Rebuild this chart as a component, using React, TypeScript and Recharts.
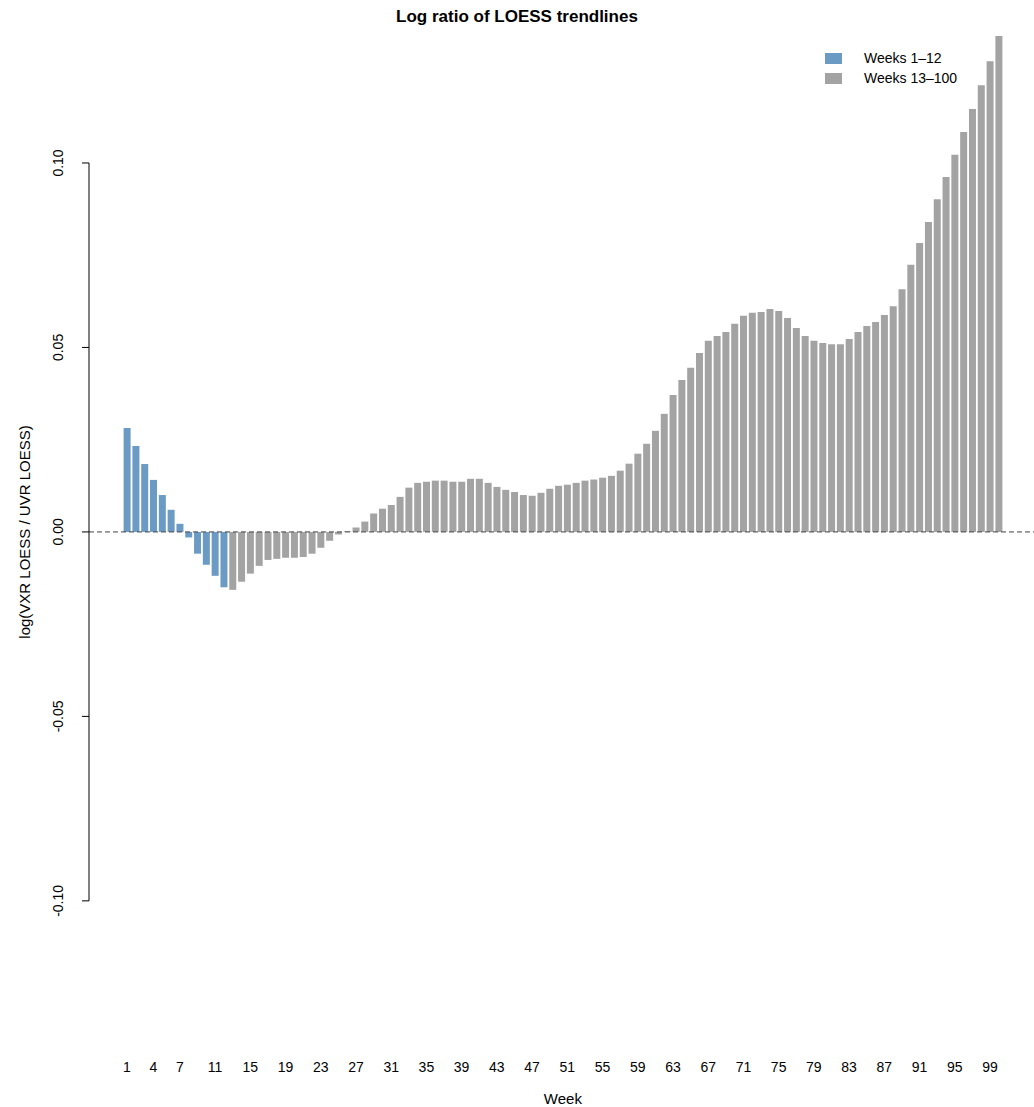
import React from 'react';
import { BarChart, Bar, XAxis, YAxis, Cell, ReferenceLine } from 'recharts';

const weeks: number[] = Array.from({ length: 100 }, (_, i) => i + 1);
const values: number[] = [
  0.0282, 0.0233, 0.0184, 0.0141, 0.0100, 0.0060, 0.0022, -0.0015, -0.0059, -0.0089,
  -0.0119, -0.0150, -0.0157, -0.0135, -0.0113, -0.0092, -0.0076, -0.0073, -0.0070, -0.0070,
  -0.0068, -0.0059, -0.0043, -0.0024, -0.0007, 0.0002, 0.0012, 0.0028, 0.0050, 0.0063,
  0.0073, 0.0095, 0.0120, 0.0133, 0.0136, 0.0139, 0.0139, 0.0136, 0.0136, 0.0144,
  0.0144, 0.0133, 0.0122, 0.0114, 0.0108, 0.0100, 0.0098, 0.0106, 0.0117, 0.0125,
  0.0128, 0.0133, 0.0139, 0.0142, 0.0147, 0.0152, 0.0166, 0.0185, 0.0212, 0.0239,
  0.0274, 0.0320, 0.0371, 0.0412, 0.0445, 0.0485, 0.0518, 0.0531, 0.0542, 0.0564,
  0.0586, 0.0594, 0.0596, 0.0604, 0.0599, 0.0580, 0.0553, 0.0531, 0.0518, 0.0512,
  0.0509, 0.0509, 0.0523, 0.0542, 0.0558, 0.0569, 0.0588, 0.0612, 0.0658, 0.0724,
  0.0783, 0.0840, 0.0902, 0.0962, 0.1022, 0.1084, 0.1146, 0.1211, 0.1276, 0.1344,
];
const shownWeekLabels: number[] = [1, 4, 7, 11, 15, 19, 23, 27, 31, 35, 39, 43, 47, 51, 55, 59, 63, 67, 71, 75, 79, 83, 87, 91, 95, 99];
const yTicks: number[] = [-0.1, -0.05, 0, 0.05, 0.1];
const yTickLabels: string[] = ['-0.10', '-0.05', '0.00', '0.05', '0.10'];
const legendLabels: string[] = ['Weeks 1\u201312', 'Weeks 13\u2013100'];

const BLUE = '#6b9bc4';
const GREY = '#a3a3a3';
const W = 1034;
const H = 1107;
const TOP = 15.4;
const XAXIS_H = 77;
const YAXIS_W = 122.6;
const RIGHT = 30.8;
const DMIN = -0.135;
const DMAX = 0.14;
const AXIS_X = 89;
const PX_PER_UNIT = (H - TOP - XAXIS_H) / (DMAX - DMIN);
const FONT = '"Liberation Sans", Arial, sans-serif';

const data = weeks.map((w, i) => ({ week: w, value: values[i] }));

const YTick = (props: any) => {
  const { y, payload } = props;
  const idx = yTicks.indexOf(payload.value);
  const label = idx >= 0 ? yTickLabels[idx] : String(payload.value);
  const isTop = Math.abs(payload.value - 0.1) < 1e-9;
  const isZero = Math.abs(payload.value) < 1e-9;
  const tx = 63;
  return (
    <g>
      <line x1={AXIS_X - 7} x2={AXIS_X} y1={y} y2={y} stroke="#000" />
      {isTop && <line x1={AXIS_X} x2={AXIS_X} y1={y} y2={y + 0.2 * PX_PER_UNIT} stroke="#000" />}
      {isZero && <line x1={AXIS_X} x2={W} y1={y} y2={y} stroke="#444" strokeDasharray="5 3" />}
      <text x={tx} y={y} transform={`rotate(-90, ${tx}, ${y})`} textAnchor="middle" fontSize={14} fontFamily={FONT} fill="#000">
        {label}
      </text>
    </g>
  );
};

const XTick = (props: any) => {
  const { x, y, payload } = props;
  if (!shownWeekLabels.includes(payload.value)) return null;
  return (
    <text x={x} y={y + 34} textAnchor="middle" fontSize={14} fontFamily={FONT} fill="#000">
      {payload.value}
    </text>
  );
};

export default function App() {
  return (
    <div style={{ position: 'absolute', left: 0, top: 0, width: W, height: H, background: '#fff' }}>
      <BarChart width={W} height={H} data={data} margin={{ top: TOP, right: RIGHT, bottom: 0, left: 0 }} barSize={7} barCategoryGap={0}>
        <XAxis dataKey="week" interval={0} axisLine={false} tickLine={false} height={XAXIS_H} tick={<XTick />}
          label={{ value: 'Week', position: 'insideBottom', offset: 3, fontSize: 15, fontFamily: FONT, fill: '#000' }} />
        <YAxis type="number" domain={[DMIN, DMAX]} ticks={yTicks} width={YAXIS_W} axisLine={false} tickLine={false}
          allowDataOverflow tick={<YTick />} />
        <Bar dataKey="value" isAnimationActive={false}>
          {data.map((d) => (
            <Cell key={d.week} fill={d.week <= 12 ? BLUE : GREY} />
          ))}
        </Bar>
      </BarChart>
      <div style={{ position: 'absolute', left: 0, top: 7, width: W, textAlign: 'center', fontFamily: FONT, fontWeight: 'bold', fontSize: 17 }}>
        Log ratio of LOESS trendlines
      </div>
      <div style={{ position: 'absolute', left: 16, top: 532, fontFamily: FONT, fontSize: 15, transform: 'translate(-50%, -50%) rotate(-90deg)', transformOrigin: 'center', whiteSpace: 'nowrap', marginLeft: 8 }}>
        log(VXR LOESS / UVR LOESS)
      </div>
      {legendLabels.map((l, i) => (
        <div key={l} style={{ position: 'absolute', left: 825, top: 50 + i * 20, display: 'flex', alignItems: 'center', fontFamily: FONT, fontSize: 14 }}>
          <div style={{ width: 17, height: 11, background: i === 0 ? BLUE : GREY }} />
          <span style={{ marginLeft: 22 }}>{l}</span>
        </div>
      ))}
    </div>
  );
}
